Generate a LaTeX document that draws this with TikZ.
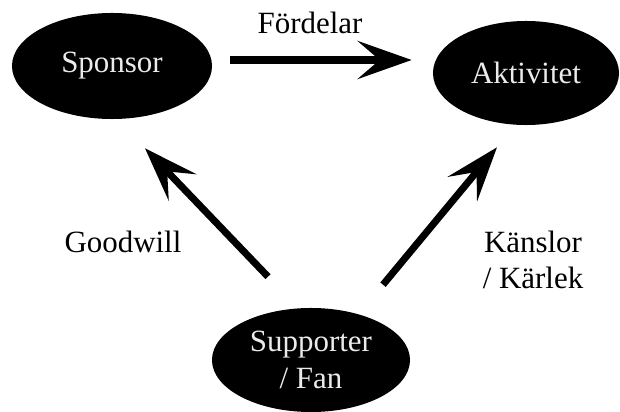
\documentclass[tikz,border=0pt]{standalone}
\usepackage{fontspec}
\setmainfont{Liberation Serif}
\usepackage{tikz}
\usetikzlibrary{calc,positioning,arrows.meta,shapes.geometric}

\begin{document}
\begin{tikzpicture}[x=0.025cm, y=-0.025cm,
  blob/.style={ellipse, fill=black, text=white!92!black, inner sep=0pt, align=center, font=\fontsize{22}{26.5}\selectfont},
  lbl/.style={align=center, font=\fontsize{22}{25.5}\selectfont},
  flow/.style={line width=5pt, -{Stealth[length=1.35cm, width=0.95cm, inset=0.55cm]}}]
  \useasboundingbox (0,0) rectangle (620,412);

  % the three parties
  \node[blob, minimum width=5cm, minimum height=2.65cm] (spon) at (112,66) {Sponsor};
  \node[blob, minimum width=4.65cm, minimum height=2.6cm] (akt) at (526,73) {Aktivitet};
  \node[blob, minimum width=4.95cm, minimum height=2.6cm] (supp) at (311,360) {Supporter\\/ Fan};

  % what flows between them
  \draw[flow] ($(spon.east)+(18,-6)$) -- ($(akt.west)+(-21,-13)$);
  \draw[flow] ($(supp.north)+(-43,-31)$) -- ($(spon.south)+(33,29)$);
  \draw[flow] ($(supp.north)+(72,-23)$) -- ($(akt.south)+(-29,22)$);

  \node[lbl] (ford) at (310,23) {Fördelar};
  \node[lbl] (good) at (123,242) {Goodwill};
  \node[lbl] (kans) at (533,260) {Känslor\\/ Kärlek};
\end{tikzpicture}
\end{document}
